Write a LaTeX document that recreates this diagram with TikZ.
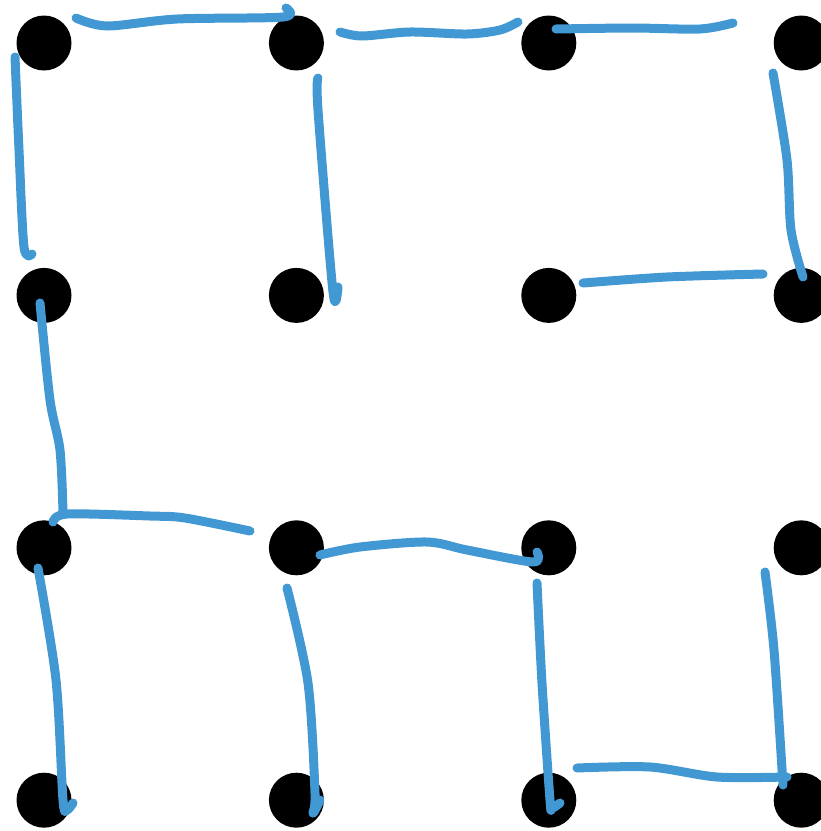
\documentclass[tikz,border=0pt]{standalone}
\usetikzlibrary{positioning}
\definecolor{penblue}{RGB}{66,152,211}

\begin{document}
\begin{tikzpicture}[
    x=1pt, y=-1pt,
    node distance=197pt,
    dot/.style={circle, fill=black, minimum size=55pt, inner sep=0pt},
    stroke/.style={draw=penblue, line width=9pt, line cap=round, line join=round}
]
\useasboundingbox (0,0) rectangle (821,831);

% grid of dots
\node[dot] (d11) at (44,43) {};
\node[dot, right=of d11] (d12) {};
\node[dot, right=of d12] (d13) {};
\node[dot, right=of d13] (d14) {};
\node[dot, below=of d11] (d21) {};
\node[dot, right=of d21] (d22) {};
\node[dot, right=of d22] (d23) {};
\node[dot, right=of d23] (d24) {};
\node[dot, below=of d21] (d31) {};
\node[dot, right=of d31] (d32) {};
\node[dot, right=of d32] (d33) {};
\node[dot, right=of d33] (d34) {};
\node[dot, below=of d31] (d41) {};
\node[dot, right=of d41] (d42) {};
\node[dot, right=of d42] (d43) {};
\node[dot, right=of d43] (d44) {};

% hand-drawn strokes
\draw[stroke] plot[smooth, tension=0.5] coordinates {(76,18) (107,26) (177,19) (283,17) (286,8)};
\draw[stroke] plot[smooth, tension=0.5] coordinates {(340,32) (362,36) (410,32) (467,34) (500,30) (518,22)};
\draw[stroke] plot[smooth, tension=0.5] coordinates {(556,29) (633,28) (700,29) (733,23)};
\draw[stroke] plot[smooth, tension=0.5] coordinates {(15,57) (19,150) (24,247) (32,254)};
\draw[stroke] plot[smooth, tension=0.5] coordinates {(318,78) (318,110) (333,292) (338,287)};
\draw[stroke] plot[smooth, tension=0.5] coordinates {(773,73) (787,160) (791,230) (803,277)};
\draw[stroke] plot[smooth, tension=0.5] coordinates {(583,283) (667,277) (763,274)};
\draw[stroke] plot[smooth, tension=0.5] coordinates {(40,303) (50,400) (60,450) (63,512)};
\draw[stroke] plot[smooth, tension=0.5] coordinates {(53,522) (67,514) (150,516) (185,518) (250,531)};
\draw[stroke] plot[smooth, tension=0.5] coordinates {(320,555) (360,547) (427,542) (467,550) (533,562) (537,552)};
\draw[stroke] plot[smooth, tension=0.5] coordinates {(38,568) (56,680) (63,800) (67,810) (73,803)};
\draw[stroke] plot[smooth, tension=0.5] coordinates {(287,588) (308,683) (315,793) (313,813) (320,800)};
\draw[stroke] plot[smooth, tension=0.5] coordinates {(537,583) (542,683) (550,800) (552,808) (560,803)};
\draw[stroke] plot[smooth, tension=0.5] coordinates {(577,768) (650,767) (717,777) (787,777)};
\draw[stroke] plot[smooth, tension=0.5] coordinates {(765,572) (774,650) (783,785)};
\end{tikzpicture}
\end{document}
